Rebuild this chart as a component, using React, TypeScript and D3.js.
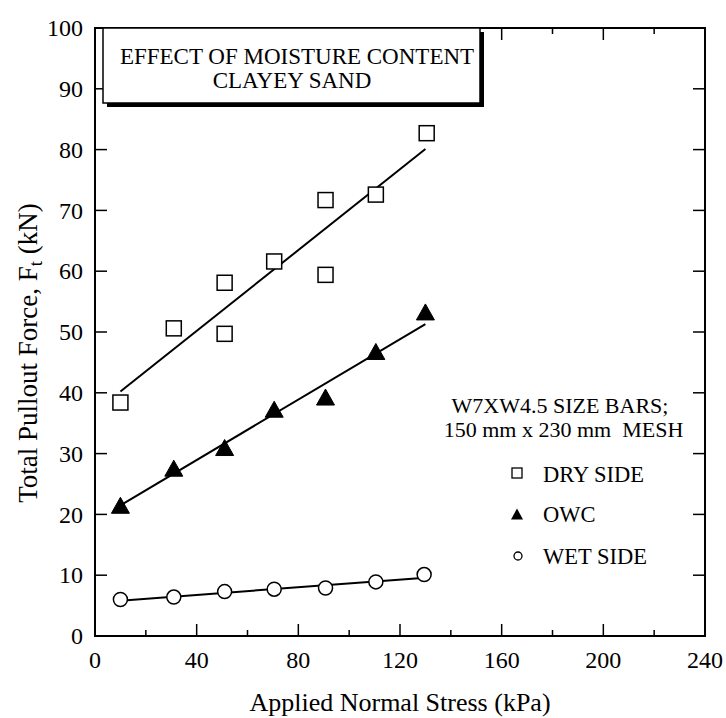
import React from "react";
import * as d3 from "d3";

// ---- data ----
const dryX = [10, 31, 51, 51, 70.5, 90.7, 90.7, 110.5, 130.5];
const dryY = [38.4, 50.6, 58.1, 49.7, 61.6, 71.7, 59.4, 72.6, 82.7];
const owcX = [10, 31, 51, 70.5, 90.7, 110.5, 130];
const owcY = [21.5, 27.6, 31.0, 37.3, 39.3, 46.8, 53.3];
const wetX = [10, 31, 51, 70.5, 90.7, 110.5, 129.5];
const wetY = [6.0, 6.4, 7.3, 7.7, 7.9, 8.9, 10.1];
const fitX = [10, 130];
const dryFit = [40.2, 80.1];
const owcFit = [21.5, 51.3];
const wetFit = [5.8, 9.6];
const xTicks = [0, 40, 80, 120, 160, 200, 240];
const xMinor = [20, 60, 100, 140, 180, 220];
const yTicks = [0, 10, 20, 30, 40, 50, 60, 70, 80, 90, 100];
const titleLines = ["EFFECT OF MOISTURE CONTENT", "CLAYEY SAND"];
const noteLines = ["W7XW4.5 SIZE BARS;", "150 mm x 230 mm  MESH"];
const legendLabels = ["DRY SIDE", "OWC", "WET SIDE"];

const W = 726, H = 718;
const L = 95, R = 705, T = 28, B = 636;
const FONT = "'Liberation Serif', 'Times New Roman', serif";

export default function App() {
  const x = d3.scaleLinear().domain([0, 240]).range([L, R]);
  const y = d3.scaleLinear().domain([0, 100]).range([B, T]);
  const line = d3.line<[number, number]>().x(d => x(d[0])).y(d => y(d[1]));
  const fit = (vals: number[]) => line(fitX.map((v, i) => [v, vals[i]] as [number, number])) || "";
  const tri = (cx: number, cy: number, hw: number, hh: number) =>
    `M${cx},${cy - hh}L${cx + hw},${cy + hh}L${cx - hw},${cy + hh}Z`;

  return (
    <svg width={W} height={H} style={{ position: "absolute", left: 0, top: 0, background: "#fff" }}
      fontFamily={FONT}>
      <rect x={0} y={0} width={W} height={H} fill="#fff" />
      {/* ticks */}
      <g stroke="#000" strokeWidth={1.5}>
        {xTicks.map(t => (
          <g key={"xt" + t}>
            <line x1={x(t)} x2={x(t)} y1={B} y2={B - 12} />
            <line x1={x(t)} x2={x(t)} y1={T} y2={T + 12} />
          </g>
        ))}
        {xMinor.map(t => (
          <g key={"xm" + t}>
            <line x1={x(t)} x2={x(t)} y1={B} y2={B - 6} />
            <line x1={x(t)} x2={x(t)} y1={T} y2={T + 6} />
          </g>
        ))}
        {yTicks.map(t => (
          <g key={"yt" + t}>
            <line x1={L} x2={L + 12} y1={y(t)} y2={y(t)} />
            <line x1={R} x2={R - 12} y1={y(t)} y2={y(t)} />
          </g>
        ))}
      </g>
      <rect x={L} y={T} width={R - L} height={B - T} fill="none" stroke="#000" strokeWidth={2} />
      {/* tick labels */}
      <g fontSize={24} fill="#000">
        {xTicks.map(t => (
          <text key={"xl" + t} x={x(t)} y={668} textAnchor="middle">{t}</text>
        ))}
        {yTicks.map(t => (
          <text key={"yl" + t} x={83} y={y(t)} dy="0.34em" textAnchor="end">{t}</text>
        ))}
      </g>
      {/* axis titles */}
      <text x={(L + R) / 2} y={711} textAnchor="middle" fontSize={26}>Applied Normal Stress (kPa)</text>
      <text transform={`translate(37,353) rotate(-90)`} textAnchor="middle" fontSize={27}>
        Total Pullout Force, F<tspan fontSize={19} dy={5}>t</tspan><tspan dy={-5}> (kN)</tspan>
      </text>
      {/* title box */}
      <rect x={107} y={32} width={377} height={75} fill="#000" />
      <rect x={103} y={28} width={377} height={75} fill="#fff" stroke="#000" strokeWidth={1.5} />
      <text x={297} y={64} textAnchor="middle" fontSize={23}>{titleLines[0]}</text>
      <text x={292} y={88} textAnchor="middle" fontSize={23}>{titleLines[1]}</text>
      {/* fit lines */}
      <g fill="none" stroke="#000" strokeWidth={2}>
        <path d={fit(dryFit)} />
        <path d={fit(owcFit)} />
        <path d={fit(wetFit)} />
      </g>
      {/* markers */}
      {dryX.map((v, i) => (
        <rect key={"d" + i} x={x(v) - 7.5} y={y(dryY[i]) - 7.5} width={15} height={15}
          fill="#fff" stroke="#000" strokeWidth={1.5} />
      ))}
      {owcX.map((v, i) => (
        <path key={"o" + i} d={tri(x(v), y(owcY[i]), 9, 8)} fill="#000" stroke="#000" strokeWidth={1} />
      ))}
      {wetX.map((v, i) => (
        <circle key={"w" + i} cx={x(v)} cy={y(wetY[i])} r={7} fill="#fff" stroke="#000" strokeWidth={1.5} />
      ))}
      {/* notes */}
      <text x={560} y={413} textAnchor="middle" fontSize={22}>{noteLines[0]}</text>
      <text x={563.5} y={437} textAnchor="middle" fontSize={22} style={{ whiteSpace: "pre" }}>{noteLines[1]}</text>
      {/* legend */}
      <rect x={512} y={468} width={10} height={10} fill="#fff" stroke="#000" strokeWidth={1.3} />
      <path d={tri(517, 514, 6, 5.5)} fill="#000" />
      <circle cx={518} cy={556} r={4} fill="#fff" stroke="#000" strokeWidth={1.3} />
      <g fontSize={22.5}>
        <text x={543} y={482}>{legendLabels[0]}</text>
        <text x={543} y={522}>{legendLabels[1]}</text>
        <text x={543} y={564}>{legendLabels[2]}</text>
      </g>
    </svg>
  );
}
